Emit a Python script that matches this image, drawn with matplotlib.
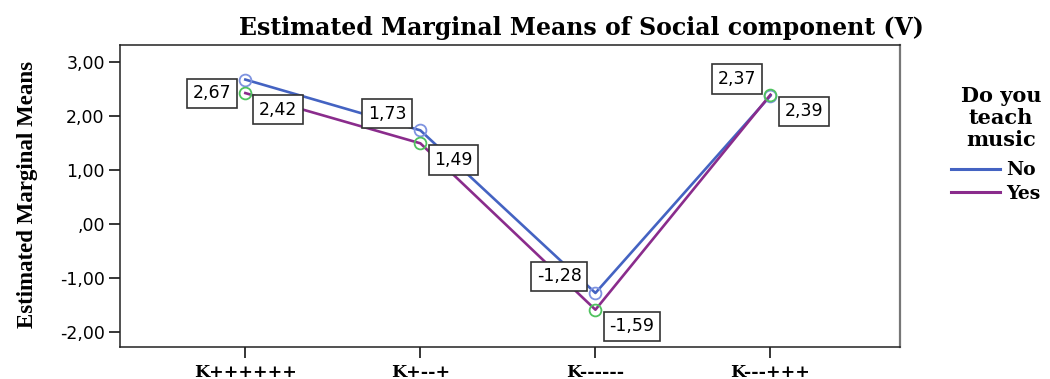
import matplotlib
matplotlib.use("Agg")
import matplotlib.pyplot as plt

categories = ["K++++++", "K+--+", "K------", "K---+++"]
no_values = [2.67, 1.73, -1.28, 2.37]
yes_values = [2.42, 1.49, -1.59, 2.39]
yticks = [-2, -1, 0, 1, 2, 3]
ytick_labels = ["-2,00", "-1,00", ",00", "1,00", "2,00", "3,00"]

def fmt(v):
    return ("%.2f" % v).replace(".", ",")

fig = plt.figure(figsize=(10.5, 3.79), dpi=100)
ax = fig.add_axes([120/1050, 1-347/379, 780/1050, 302/379])

x = list(range(len(categories)))
c_no = "#4463C2"
c_yes = "#8A2C8C"
ax.plot(x, no_values, color=c_no, lw=1.9, marker="o", ms=8.5, mfc="none",
        mec="#7E93E0", mew=1.3, label="No", zorder=3)
ax.plot(x, yes_values, color=c_yes, lw=1.9, marker="o", ms=8.5, mfc="none",
        mec="#4FC25E", mew=1.3, label="Yes", zorder=3)

ax.set_xlim(-0.716, 3.74)
ax.set_ylim(-2.28, 3.31)
ax.set_xticks(x)
ax.set_xticklabels(categories, family="DejaVu Serif", fontweight="bold", fontsize=12.5)
ax.set_yticks(yticks)
ax.set_yticklabels(ytick_labels, family="DejaVu Sans", fontsize=12.5)
ax.tick_params(axis="both", direction="out", length=8, width=1.1, color="black")
ax.tick_params(axis="y", pad=3)
ax.tick_params(axis="x", pad=4)
for s in ["left", "bottom", "top"]:
    ax.spines[s].set_color("#222222")
    ax.spines[s].set_linewidth(1.1)
ax.spines["right"].set_color("#777777")
ax.spines["right"].set_linewidth(1.6)

bbox = dict(boxstyle="square,pad=0.33", fc="white", ec="#333333", lw=1.2)
# label placement: (dx, dy, ha, va) in points
no_pos = [(-10, -3.5, "right", "top"), (-10, 5.5, "right", "bottom"),
          (-10, 5.5, "right", "bottom"), (-10, 5.5, "right", "bottom")]
yes_pos = [(10, -5.5, "left", "top"), (10, -5.5, "left", "top"),
           (10, -5.5, "left", "top"), (10, -5.5, "left", "top")]
for xi, v, (dx, dy, ha, va) in zip(x, no_values, no_pos):
    ax.annotate(fmt(v), (xi, v), xytext=(dx, dy), textcoords="offset points",
                ha=ha, va=va, fontsize=12.5, family="DejaVu Sans", bbox=bbox, zorder=5)
for xi, v, (dx, dy, ha, va) in zip(x, yes_values, yes_pos):
    ax.annotate(fmt(v), (xi, v), xytext=(dx, dy), textcoords="offset points",
                ha=ha, va=va, fontsize=12.5, family="DejaVu Sans", bbox=bbox, zorder=5)

fig.text(581/1050, 1-28/379, "Estimated Marginal Means of Social component (V)",
         ha="center", va="center", family="DejaVu Serif", fontweight="bold", fontsize=17)
fig.text(28/1050, 1-194/379, "Estimated Marginal Means", rotation=90,
         ha="center", va="center", family="Liberation Serif", fontweight="bold", fontsize=16.5)

fig.text(1001/1050, 1-118/379, "Do you\nteach\nmusic", ha="center", va="center",
         multialignment="center", linespacing=1.15,
         family="DejaVu Serif", fontweight="bold", fontsize=15)

leg = fig.legend(loc="center left", bbox_to_anchor=(951/1050, 1-182/379),
                 frameon=False,
                 prop=dict(family="DejaVu Serif", weight="bold", size=13.5),
                 handlelength=2.6, handletextpad=0.35, labelspacing=0.3,
                 borderaxespad=0, borderpad=0)
for h in leg.legend_handles:
    h.set_marker("")
    h.set_linewidth(2.2)

fig.savefig("out.png", dpi=100)
